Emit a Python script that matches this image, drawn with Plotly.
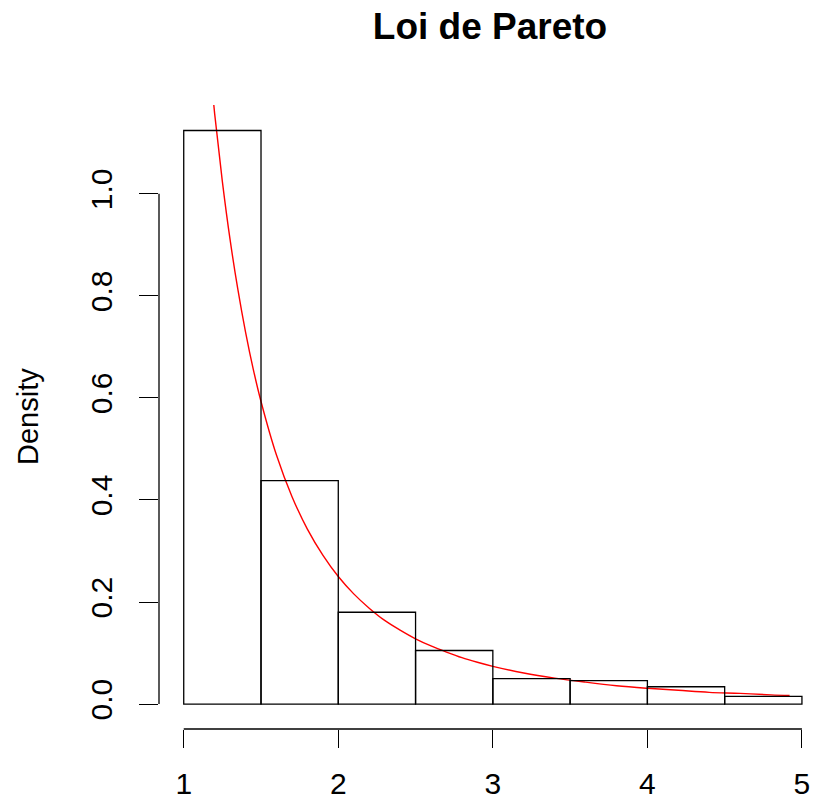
import plotly.graph_objects as go

# Histogram (density scale)
bin_centers = [1.25, 1.75, 2.25, 2.75, 3.25, 3.75, 4.25, 4.75]
bin_width = 0.5
densities = [1.124, 0.438, 0.180, 0.105, 0.050, 0.046, 0.034, 0.015]

# Red density curve
curve_x = [1.10, 1.15, 1.20, 1.25, 1.30, 1.35, 1.40, 1.45, 1.50, 1.60, 1.70, 1.80,
           1.90, 2.00, 2.10, 2.20, 2.30, 2.40, 2.50, 2.60, 2.70, 2.80, 2.90, 3.00,
           3.20, 3.40, 3.60, 3.80, 4.00, 4.20, 4.40, 4.60, 4.80, 4.92]
curve_y = [1.503, 1.315, 1.157, 1.024, 0.910, 0.813, 0.729, 0.656, 0.593, 0.488, 0.407, 0.343,
           0.292, 0.250, 0.216, 0.188, 0.164, 0.145, 0.128, 0.114, 0.102, 0.091, 0.082, 0.074,
           0.061, 0.051, 0.043, 0.036, 0.031, 0.027, 0.023, 0.021, 0.018, 0.017]

x_ticks = [1, 2, 3, 4, 5]
y_ticks = [0.0, 0.2, 0.4, 0.6, 0.8, 1.0]
y_tick_text = ["0.0", "0.2", "0.4", "0.6", "0.8", "1.0"]

FONT = "Liberation Sans, Arial, sans-serif"

fig = go.Figure()
fig.add_trace(go.Scatter(
    x=curve_x, y=curve_y, mode="lines", line=dict(color="red", width=1.4, shape="spline"),
    hoverinfo="skip", showlegend=False))
fig.add_trace(go.Bar(
    x=bin_centers, y=densities, width=bin_width,
    marker=dict(color="rgba(0,0,0,0)", line=dict(color="black", width=1.3)),
    showlegend=False, xaxis="x2", yaxis="y2"))

W, H = 814, 802
L, R, T, B = 159, 0, 105, 73
xr = [0.84, 5.078]
yr = [-0.0488, 1.174]

fig.update_layout(
    width=W, height=H,
    margin=dict(l=L, r=R, t=T, b=B, pad=0),
    plot_bgcolor="white", paper_bgcolor="white",
    font=dict(family=FONT, size=30, color="black"),
    title=dict(text="<b>Loi de Pareto</b>", x=490 / W, xanchor="center",
               y=1 - 26 / H, yanchor="middle", yref="container",
               font=dict(size=37, family=FONT)),
    xaxis=dict(range=xr, tickmode="array", tickvals=x_ticks, ticks="outside",
               ticklen=18, tickwidth=1.3, tickcolor="black", showgrid=False,
               zeroline=False, showline=False, ticklabelstandoff=10,
               tickfont=dict(size=30)),
    yaxis=dict(range=yr, tickmode="array", tickvals=y_ticks, ticktext=y_tick_text,
               ticks="outside", ticklen=19, tickwidth=1.3, tickcolor="black",
               showgrid=False, zeroline=False, showline=False, tickangle=-90,
               ticklabelstandoff=15, tickfont=dict(size=30)),
    xaxis2=dict(range=xr, overlaying="x", visible=False),
    yaxis2=dict(range=yr, overlaying="y", visible=False),
    shapes=[
        dict(type="line", xref="paper", yref="y", x0=0, x1=0, y0=0, y1=1,
             line=dict(color="black", width=1.3)),
        dict(type="line", xref="x", yref="paper", x0=1, x1=5, y0=0, y1=0,
             line=dict(color="black", width=1.3)),
    ],
    annotations=[
        dict(text="Density", textangle=-90, xref="paper", yref="paper",
             x=(28 - L) / (W - L - R), y=0.5, xanchor="center", yanchor="middle",
             showarrow=False, font=dict(size=29, family=FONT)),
    ],
)

fig.write_html("out.html")
